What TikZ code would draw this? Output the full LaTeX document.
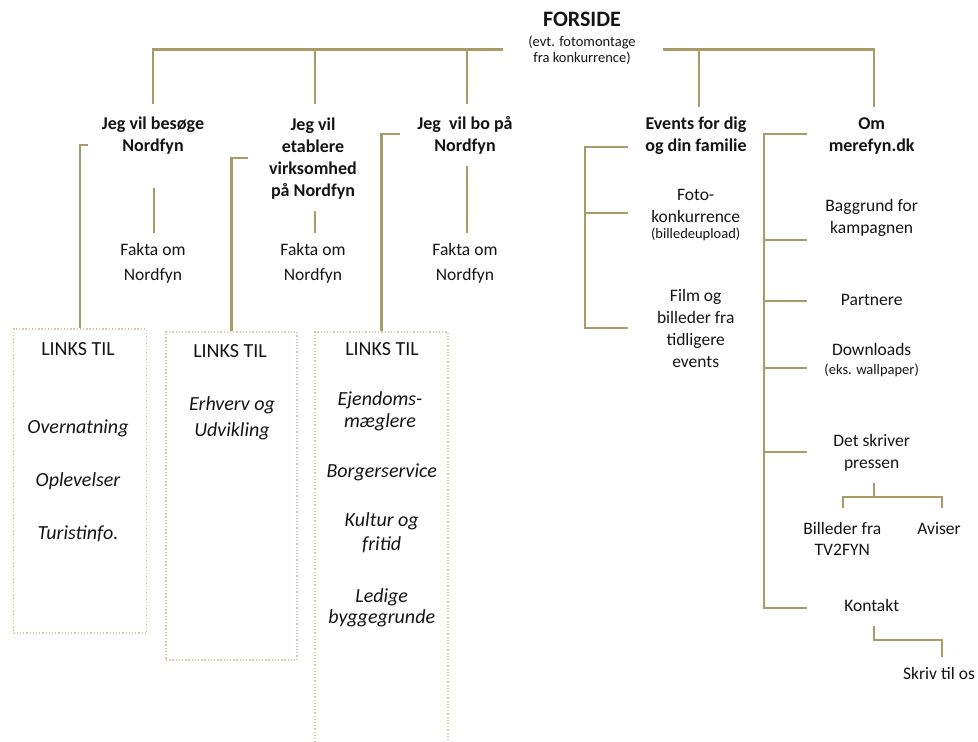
\documentclass[tikz,border=0pt]{standalone}
\usepackage{fontspec}
\setmainfont{Carlito}
\definecolor{linec}{RGB}{169,155,103}
\definecolor{dotc}{RGB}{214,203,165}
\definecolor{txt}{RGB}{20,20,20}
\begin{document}
\begin{tikzpicture}[x=1pt,y=-1pt,
  conn/.style={draw=linec, line width=2.8pt},
  dotbox/.style={draw=dotc, line width=1.4pt, dash pattern=on 1.3pt off 1.9pt, inner sep=0pt},
  lbl/.style={font=\fontsize{17.5}{22}\selectfont, align=center, anchor=base, inner sep=0pt, text=txt},
  head/.style={lbl, font=\bfseries\fontsize{18}{22}\selectfont},
  ital/.style={lbl, font=\itshape\fontsize{20}{22}\selectfont},
  links/.style={lbl, font=\fontsize{20}{22}\selectfont},
  smalltxt/.style={lbl, font=\fontsize{14.5}{16}\selectfont},
]
\clip (0,0) rectangle (978,742);

% top (base anchor = baseline of the last line)
\node[head, font=\bfseries\fontsize{22}{26}\selectfont] (forside) at (582,26) {FORSIDE};
\node[smalltxt] (forsub) at (582,62.7) {(evt. fotomontage\\fra konkurrence)};

% level 1
\node[head] (c1) at (153,151) {Jeg vil besøge\\Nordfyn};
\node[head] (c2) at (313,196.7) {Jeg vil\\etablere\\virksomhed\\på Nordfyn};
\node[head] (c3) at (465,151) {Jeg\ \ vil bo på\\Nordfyn};
\node[head] (c4) at (696,151.7) {Events for dig\\og din familie};
\node[head] (c5) at (871.7,151.7) {Om\\merefyn.dk};

% fakta
\node[lbl, font=\fontsize{17.5}{25}\selectfont] (f1) at (153,280) {Fakta om\\Nordfyn};
\node[lbl, font=\fontsize{17.5}{25}\selectfont] (f2) at (313,280) {Fakta om\\Nordfyn};
\node[lbl, font=\fontsize{17.5}{25}\selectfont] (f3) at (465,280) {Fakta om\\Nordfyn};

% boxes
\node[dotbox, minimum width=133pt, minimum height=304pt] (box1) at (80,481) {};
\node[dotbox, minimum width=131pt, minimum height=328pt] (box2) at (231.5,496) {};
\node[dotbox, minimum width=133pt, minimum height=448pt] (box3) at (381.5,556) {};

\node[links] (l1) at (78,355) {LINKS TIL};
\node[ital] (l1a) at (78,433.3) {Overnatning};
\node[ital] (l1b) at (78,486) {Oplevelser};
\node[ital] (l1c) at (78,539.3) {Turistinfo.};

\node[links] (l2) at (230,357.7) {LINKS TIL};
\node[ital, font=\itshape\fontsize{20}{26.5}\selectfont] (l2a) at (232,436.7) {Erhverv og\\Udvikling};

\node[links] (l3) at (382,355) {LINKS TIL};
\node[ital] (l3a) at (380,427.7) {Ejendoms-\\mæglere};
\node[ital] (l3b) at (381.7,477.7) {Borgerservice};
\node[ital, font=\itshape\fontsize{20}{24.7}\selectfont] (l3c) at (381.7,550.7) {Kultur og\\fritid};
\node[ital, font=\itshape\fontsize{20}{21}\selectfont] (l3d) at (381.7,623.3) {Ledige\\byggegrunde};

% events children
\node[lbl] (e1) at (695.7,222.3) {Foto-\\konkurrence};
\node[smalltxt] (e1s) at (695.7,238.3) {(billedeupload)};
\node[lbl, font=\fontsize{17.5}{21.8}\selectfont] (e2) at (695.7,367) {Film og\\billeder fra\\tidligere\\events};

% om children
\node[lbl, font=\fontsize{17.5}{21.6}\selectfont] (o1) at (871.7,233.3) {Baggrund for\\kampagnen};
\node[lbl] (o2) at (871.7,305) {Partnere};
\node[lbl] (o3) at (871.7,355) {Downloads};
\node[smalltxt] (o3s) at (871.7,374.3) {(eks. wallpaper)};
\node[lbl] (o4) at (871.7,468.3) {Det skriver\\pressen};
\node[lbl, font=\fontsize{17.5}{21}\selectfont] (p1) at (842.3,555) {Billeder fra\\TV2FYN};
\node[lbl] (p2) at (939,534.3) {Aviser};
\node[lbl] (o5) at (871.7,611.7) {Kontakt};
\node[lbl] (k1) at (939,679.3) {Skriv til os};

% connector coordinates
\coordinate (jl) at (503,49.5);
\coordinate (jr) at (663,49.5);
\coordinate (c1t) at (153,104);
\coordinate (c2t) at (315,104);
\coordinate (c3t) at (467,104);
\coordinate (c4t) at (699,107);
\coordinate (c5t) at (874,107);

\draw[conn] (jl) -| (c1t);
\draw[conn] (c2t |- jl) -- (c2t);
\draw[conn] (c3t |- jl) -- (c3t);
\draw[conn] (jr) -| (c5t);
\draw[conn] (c4t |- jr) -- (c4t);

% brackets to boxes
\coordinate (b1s) at (88,145);
\coordinate (b2s) at (248,158);
\coordinate (b3s) at (400,134);
\draw[conn] (b1s) -| (box1.north);
\draw[conn] (b2s) -| (box2.north);
\draw[conn] (b3s) -| (box3.north);

% title to fakta
\coordinate (f1t) at (154,233);
\coordinate (f2t) at (315,233);
\coordinate (f3t) at (467,233);
\draw[conn] (154,188) -- (f1t);
\draw[conn] (315,211) -- (f2t);
\draw[conn] (467,166) -- (f3t);

% events bracket
\coordinate (ev0) at (628,147);
\coordinate (ev1) at (628,213);
\coordinate (ev2) at (628,328);
\draw[conn] (ev0) -- (585,147) -- (585,328) -- (ev2);
\draw[conn] (585,213) -- (ev1);

% om bracket
\coordinate (om0) at (807,134);
\coordinate (om1) at (807,240);
\coordinate (om2) at (807,301);
\coordinate (om3) at (807,368);
\coordinate (om4) at (807,452);
\coordinate (om5) at (807,608);
\draw[conn] (om0) -- (764,134) -- (764,608) -- (om5);
\draw[conn] (764,240) -- (om1);
\draw[conn] (764,301) -- (om2);
\draw[conn] (764,368) -- (om3);
\draw[conn] (764,452) -- (om4);

% press subtree
\coordinate (pr) at (874,483);
\coordinate (p1t) at (843,508);
\coordinate (p2t) at (942,508);
\draw[conn] (pr) -- (874,497);
\draw[conn] (p1t) -- (843,497) -- (942,497) -- (p2t);

% kontakt subtree
\coordinate (ko) at (874,626);
\coordinate (k1t) at (942,657);
\draw[conn] (ko) |- (942,640) -- (k1t);
\end{tikzpicture}
\end{document}
